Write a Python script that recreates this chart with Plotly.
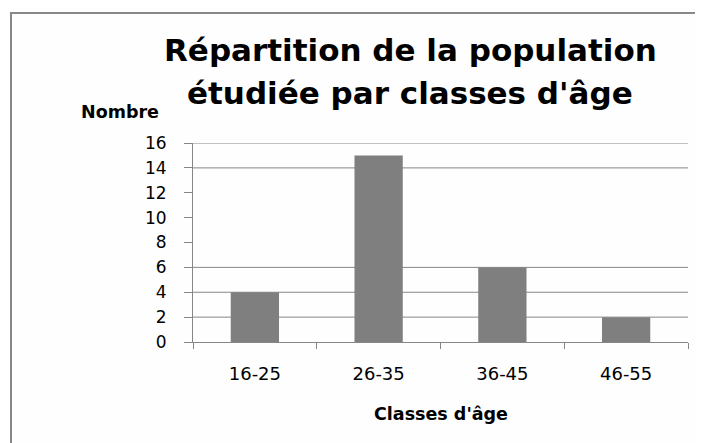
import plotly.graph_objects as go

categories = ["16-25", "26-35", "36-45", "46-55"]
counts = [4, 15, 6, 2]
y_ticks = [0, 2, 4, 6, 8, 10, 12, 14, 16]
grid_values = [2, 4, 6, 14, 16]

title_lines = ["Répartition de la population", "étudiée par classes d'âge"]
y_title = "Nombre"
x_title = "Classes d'âge"

OFF = 8  # page body margin
W, H = 703 - OFF, 443 - OFF
L, R, T, B = 193 - OFF, 15, 143 - OFF, 101
pw, ph = W - L - R, H - T - B

def px_x(p):
    return (p - OFF - L) / pw

def px_y(p):
    return (H - B - (p - OFF)) / ph

GRAY = "#868686"
FONT = "DejaVu Sans"

fig = go.Figure(go.Bar(x=categories, y=counts, marker_color="#7f7f7f",
                       marker_line_width=0))

shapes = []
for g in grid_values:
    shapes.append(dict(type="line", xref="paper", yref="y", x0=0, x1=1, y0=g, y1=g,
                       line=dict(color=GRAY, width=1), layer="below"))
# outer chart frame
shapes.append(dict(type="rect", xref="paper", yref="paper",
                   x0=px_x(11), x1=px_x(760), y0=px_y(13), y1=px_y(520),
                   line=dict(color="#888888", width=2), layer="below"))

annotations = []
for line, ypx in zip(title_lines, [50, 93]):
    annotations.append(dict(text="<b>" + line + "</b>", xref="paper", yref="paper",
                            x=px_x(410), y=px_y(ypx), xanchor="center", yanchor="middle",
                            showarrow=False, font=dict(size=31, family=FONT, color="#000")))
annotations.append(dict(text="<b>" + y_title + "</b>", xref="paper", yref="paper",
                        x=px_x(120), y=px_y(112), xanchor="center", yanchor="middle",
                        showarrow=False, font=dict(size=17.5, family=FONT, color="#000")))
annotations.append(dict(text="<b>" + x_title + "</b>", xref="paper", yref="paper",
                        x=0.5, y=px_y(414), xanchor="center", yanchor="middle",
                        showarrow=False, font=dict(size=17.5, family=FONT, color="#000")))

fig.update_layout(
    width=W, height=H,
    margin=dict(l=L, r=R, t=T, b=B),
    paper_bgcolor="#fefefe", plot_bgcolor="#fefefe",
    bargap=0.61,
    showlegend=False,
    shapes=shapes,
    font=dict(family=FONT, color="#000000"),
    annotations=annotations,
)

fig.update_xaxes(type="category", showline=True, linecolor=GRAY, linewidth=1,
                 ticks="outside", tickson="boundaries", ticklen=6, tickcolor=GRAY,
                 showgrid=False, tickfont=dict(size=18, family=FONT, color="#000"),
                 ticklabelstandoff=15)
fig.update_yaxes(range=[0, 16], tickvals=y_ticks, showline=True, linecolor=GRAY,
                 linewidth=1, ticks="outside", ticklen=8, tickcolor=GRAY,
                 showgrid=False, zeroline=False,
                 tickfont=dict(size=17, family=FONT, color="#000"),
                 ticklabelstandoff=14)

fig.write_html("out.html")
